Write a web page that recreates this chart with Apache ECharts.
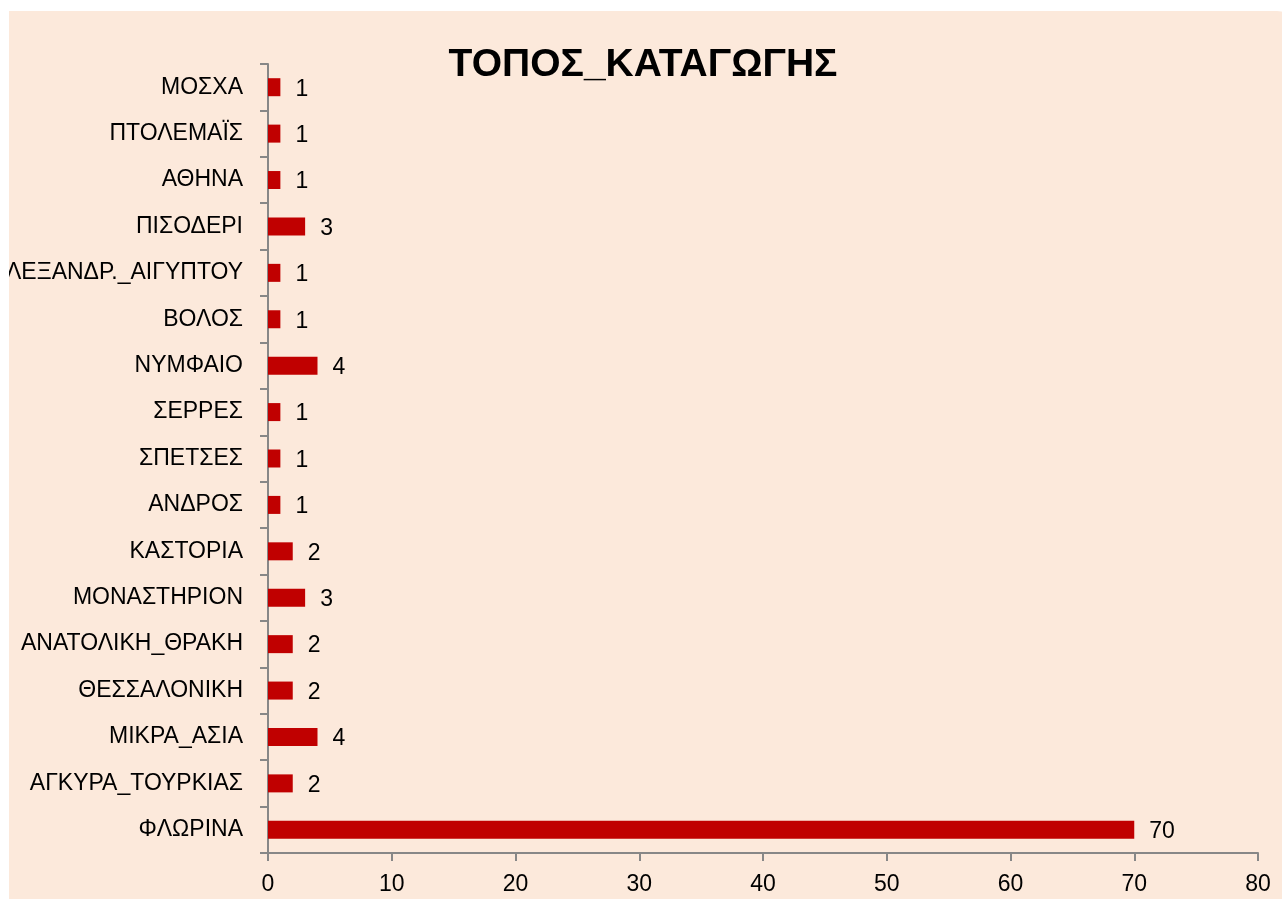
<!DOCTYPE html>
<html>
<head>
<meta charset="utf-8">
<script src="https://cdn.jsdelivr.net/npm/echarts@6/dist/echarts.min.js"></script>
<style>
  html, body { margin: 0; padding: 0; background: #fff; overflow: hidden; }
  #box { position: absolute; left: 9px; top: 11px; width: 1290px; height: 920px; background: #fce9db; border-radius: 0 22px 0 0; overflow: hidden; }
  #chart { position: absolute; left: -9px; top: -11px; width: 1282px; height: 899px; }
</style>
</head>
<body>
<div id="box"><div id="chart"></div></div>
<script>
// από πάνω προς τα κάτω, όπως στο γράφημα
const categories = ['ΜΟΣΧΑ', 'ΠΤΟΛΕΜΑΪΣ', 'ΑΘΗΝΑ', 'ΠΙΣΟΔΕΡΙ', 'ΑΛΕΞΑΝΔΡ._ΑΙΓΥΠΤΟΥ', 'ΒΟΛΟΣ', 'ΝΥΜΦΑΙΟ', 'ΣΕΡΡΕΣ', 'ΣΠΕΤΣΕΣ', 'ΑΝΔΡΟΣ', 'ΚΑΣΤΟΡΙΑ', 'ΜΟΝΑΣΤΗΡΙΟΝ', 'ΑΝΑΤΟΛΙΚΗ_ΘΡΑΚΗ', 'ΘΕΣΣΑΛΟΝΙΚΗ', 'ΜΙΚΡΑ_ΑΣΙΑ', 'ΑΓΚΥΡΑ_ΤΟΥΡΚΙΑΣ', 'ΦΛΩΡΙΝΑ']
const values = [1, 1, 1, 3, 1, 1, 4, 1, 1, 1, 2, 3, 2, 2, 4, 2, 70]
const xTicks = [0, 10, 20, 30, 40, 50, 60, 70, 80]

const font = 'Liberation Sans'
const axisColor = '#878787'

const chart = echarts.init(document.getElementById('chart'))
chart.setOption({
  backgroundColor: 'transparent',
  animation: false,
  title: {
    text: 'ΤΟΠΟΣ_ΚΑΤΑΓΩΓΗΣ',
    left: 638,
    textAlign: 'center',
    top: 41,
    textStyle: { fontFamily: font, fontSize: 39, fontWeight: 'bold', color: '#000' }
  },
  grid: { left: 268, right: 24, top: 64, bottom: 46, containLabel: false, outerBoundsMode: 'none' },
  xAxis: {
    type: 'value',
    min: xTicks[0],
    max: xTicks[xTicks.length - 1],
    interval: 10,
    splitLine: { show: false },
    axisLine: { show: true, lineStyle: { color: axisColor, width: 2 } },
    axisTick: { show: true, length: 8, lineStyle: { color: axisColor, width: 2 } },
    axisLabel: { margin: 20, fontFamily: font, fontSize: 23, color: '#000' }
  },
  yAxis: {
    type: 'category',
    data: categories,
    inverse: true,
    axisLine: { show: true, lineStyle: { color: axisColor, width: 2 } },
    axisTick: { show: true, length: 8, lineStyle: { color: axisColor, width: 2 } },
    axisLabel: { margin: 25, fontFamily: font, fontSize: 23, color: '#000' }
  },
  series: [{
    type: 'bar',
    data: values,
    barWidth: 18,
    itemStyle: { color: '#c00000' },
    label: {
      show: true,
      position: 'right',
      distance: 15,
      offset: [0, 2],
      fontFamily: font,
      fontSize: 23,
      color: '#000'
    }
  }]
})
</script>
</body>
</html>
